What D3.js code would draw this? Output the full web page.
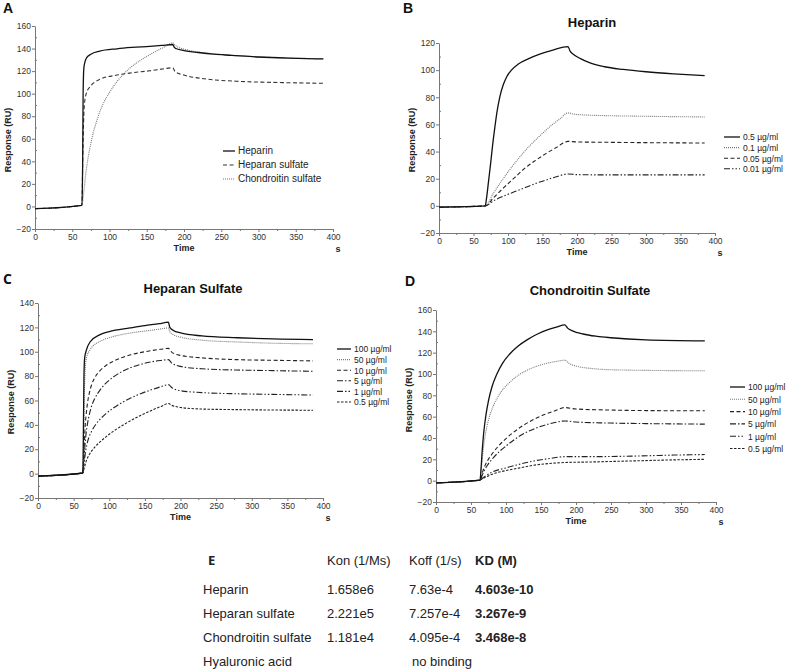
<!DOCTYPE html>
<html>
<head>
<meta charset="utf-8">
<script src="https://cdn.jsdelivr.net/npm/d3@7"></script>
<style>
  body { margin: 0; background: #fff; }
  svg { font-family: "Liberation Sans", Arial, sans-serif; }
  .tick text { fill: #333; font-size: 8.5px; }
  .domain, .tick line { stroke: #777; }
</style>
</head>
<body>
<div id="chart"></div>
<script>
// sensorgram readings, [time (s), response (RU)]

// A: all three GAGs
const aLabels = ['Heparin', 'Heparan sulfate', 'Chondroitin sulfate']
const aHeparin = [[0,-2],[63,1],[64,40],[64.6,100],[65.5,122],[67,128],[69,131.5],[75,135],[87,137.7],[110,139.8],[130,141],[154,142],[170,142.8],[185,143.6],[187,141],[190,139.8],[200,138.2],[219,136.5],[240,135],[264,134],[300,132.5],[340,131.5],[387,130.8]]
const aHeparanS = [[0,-2],[63,1],[64,40],[65,70],[66,88],[69,100.6],[75,107],[87,112.7],[110,116.5],[130,118.5],[154,120.3],[170,121.8],[185,123],[188,119.5],[200,116.5],[230,113],[270,111],[320,110],[387,109.2]]
const aChondS = [[0,-2],[63,1],[64,4],[65,10],[66.5,19],[68,28],[70,38],[72,46],[75,56],[78,65],[82,74],[87,84],[93,93],[100,101],[108,109],[117,116],[127,122.5],[138,128],[150,133],[162,137.5],[174,141.5],[185,145],[188,143],[192,141.3],[200,139.5],[219,137],[240,135.3],[264,134],[300,132.6],[340,131.6],[387,131]]

// B: heparin concentrations
const bLabels = ['0.5 \u00b5g/ml', '0.1 \u00b5g/ml', '0.05 \u00b5g/ml', '0.01 \u00b5g/ml']
const b05 = [[0,-1],[67,0],[69,6],[72,19],[75,32],[78,46],[81,58],[84,69],[88,80],[93,89],[98,95],[105,100],[115,104.5],[130,108.5],[146,111.8],[165,114.8],[187,117.3],[190,114],[195,111.5],[205,108.5],[218,105.5],[240,102.5],[267,100.5],[300,98.8],[340,97.3],[385,96]]
const b01 = [[0,-1],[67,0],[79,9.5],[91,18.5],[103,27],[117,36],[131,44],[146,51.5],[161,58.5],[175,64],[187,68.5],[195,67.6],[210,67],[240,66.5],[300,66],[385,65.5]]
const b005 = [[0,-1],[67,0],[80,6.5],[95,14],[110,21],[125,28],[140,33.5],[155,38.5],[170,43],[187,47.5],[200,47.1],[250,46.8],[385,46.3]]
const b001 = [[0,-1],[67,0],[80,4],[95,7.5],[110,10.5],[125,13.5],[140,16.5],[155,19],[170,21.5],[187,23.5],[200,23],[250,22.8],[385,22.8]]

// C: heparan sulfate concentrations
const cLabels = ['100 \u00b5g/ml', '50 \u00b5g/ml', '10 \u00b5g/ml', '5 \u00b5g/ml', '1 \u00b5g/ml', '0.5 \u00b5g/ml']
const c100 = [[0,-2],[63,0.5],[63.8,40],[64.5,80],[65.5,95],[68,101.5],[73,108],[87,114],[100,116.5],[129,119.5],[150,121.5],[170,123],[183,124.3],[185,120],[190,117.5],[200,115.5],[230,113],[280,111.5],[330,110.5],[386,110]]
const c50 = [[0,-2],[63,0.5],[64,30],[65,65],[66,82],[68,95],[73,101.5],[87,108.5],[100,111.5],[129,115.3],[150,117],[170,118.5],[183,119.5],[185,116.5],[190,114],[200,112],[230,109.5],[280,108],[330,107],[386,106.5]]
const c10 = [[0,-2],[63,0.5],[64,12],[65,25],[66,37],[67.5,48],[69.5,58],[72,66],[75,72.5],[80,79],[87,84.5],[95,88.5],[105,92],[117,95],[130,97.5],[145,99.5],[160,101],[172,102],[183,102.8],[188,99.5],[200,97],[230,95],[280,93.5],[330,93],[386,92.5]]
const c5 = [[0,-2],[63,0.5],[64,8],[65,16],[66,24],[67.5,33],[69.5,41],[72,48.5],[75,55],[80,62],[87,68.5],[95,74],[105,79],[117,83.5],[130,87],[145,89.8],[160,91.8],[172,92.8],[183,93.5],[188,90.5],[200,88],[230,86],[280,85],[330,84.5],[386,84]]
const c1 = [[0,-2],[63,0.5],[64,5],[65,10],[66.5,17],[68.5,23.5],[71,29],[75,34.5],[80,39.5],[87,44.5],[95,49],[105,53.5],[117,58],[130,62],[145,65.8],[160,69],[172,71.2],[183,73],[188,70.5],[200,68],[230,66.5],[280,65.5],[330,65],[386,64.5]]
const c05 = [[0,-2],[63,0.5],[64,2.5],[65.5,6],[67.5,10],[70,13.5],[74,17.5],[80,22],[87,26],[95,30],[105,34.5],[117,39],[130,43.5],[145,48],[160,52],[172,55],[183,57.5],[188,56],[200,54.3],[230,53],[280,52.5],[386,52]]

// D: chondroitin sulfate concentrations
const dLabels = ['100 \u00b5g/ml', '50 \u00b5g/ml', '10 \u00b5g/ml', '5 \u00b5g/ml', '1 \u00b5g/ml', '0.5 \u00b5g/ml']
const d100 = [[0,-2],[63,0.5],[64,8],[66,28],[68,44],[71,60],[75,75],[80,88],[87,100],[95,110],[105,118.5],[117,126],[130,132],[145,137.5],[160,141.5],[172,144],[184,146],[188,143],[195,140.5],[210,137.5],[230,135.3],[250,134],[300,132],[384,131]]
const d50 = [[0,-2],[63,0.5],[64,6],[66,20],[68,32],[71,45],[75,57],[80,67],[87,77],[95,85],[105,92],[117,98.5],[130,103.5],[145,107.5],[160,110.3],[172,111.8],[184,113],[190,110],[200,107.5],[220,105.3],[260,103.8],[384,103]]
const d10 = [[0,-2],[63,0.5],[64,2],[66,7],[69,12.5],[73,18],[80,25],[90,33],[100,39.5],[112,46],[125,52],[140,57.5],[155,62],[170,65.5],[184,68.5],[200,67.2],[250,66.2],[300,65.7],[384,65.5]]
const d5 = [[0,-2],[63,0.5],[64,1.5],[66,5],[69,9.5],[73,14],[80,20],[90,27],[100,32.5],[112,38.5],[125,44],[140,48.5],[155,52],[170,54.5],[184,56],[200,55],[250,54],[300,53.5],[384,53]]
const d1 = [[0,-2],[63,0.5],[64,1],[70,4],[80,8],[100,12],[120,15.5],[140,18.5],[160,20.5],[184,22.5],[220,22.5],[280,23],[340,24],[384,24.5]]
const d05 = [[0,-2],[63,0.5],[64,1],[70,3],[80,6],[100,9.5],[120,12],[140,14.5],[160,16],[184,17],[220,17.5],[280,18.5],[340,19.5],[384,20]]

const xTicks = [0, 50, 100, 150, 200, 250, 300, 350, 400]

// E: kinetics table
const tableHeader = ['Kon (1/Ms)', 'Koff (1/s)', 'KD (M)']
const tableRows = ['Heparin', 'Heparan sulfate', 'Chondroitin sulfate', 'Hyaluronic acid']
const konValues = ['1.658e6', '2.221e5', '1.181e4', '']
const koffValues = ['7.63e-4', '7.257e-4', '4.095e-4', '']
const kdValues = ['4.603e-10', '3.267e-9', '3.468e-8', '']

// line styles
const SOLID = { dash: null, color: '#111', w: 1.3 }
const DOT = { dash: '1,1', color: '#777', w: 1.1 }
const DASH = { dash: '4,2.5', color: '#222', w: 1.1 }
const SDASH = { dash: '2.5,1.5', color: '#222', w: 1.1 }
const DASHDOT = { dash: '6,2,1.5,2', color: '#222', w: 1.1 }
const DASHDOTDOT = { dash: '6,2,1.5,2,1.5,2', color: '#222', w: 1.1 }

let svg = d3.select('#chart').append('svg')
  .attr('width', 787)
  .attr('height', 670)

function drawPanel(p) {
  let x = d3.scaleLinear().domain([0, 400]).range([p.x0, p.x1])
  let y = d3.scaleLinear().domain([-20, p.yMax]).range([p.yBottom, p.yTop])
  let g = svg.append('g')

  // minor ticks
  g.append('g')
    .attr('transform', `translate(0,${p.yBottom})`)
    .call(d3.axisBottom(x).tickValues(d3.range(25, 400, 50)).tickSize(2).tickFormat(''))
    .call(a => a.select('.domain').remove())
  g.append('g')
    .attr('transform', `translate(${p.x0},0)`)
    .call(d3.axisLeft(y).tickValues(d3.range(-10, p.yMax, 20)).tickSize(-2).tickFormat(''))
    .call(a => a.select('.domain').remove())

  g.append('g')
    .attr('transform', `translate(0,${p.yBottom})`)
    .call(d3.axisBottom(x).tickValues(xTicks).tickSize(3).tickSizeOuter(0).tickPadding(2))
  g.append('g')
    .attr('transform', `translate(${p.x0},0)`)
    .call(d3.axisLeft(y).tickValues(d3.range(-20, p.yMax + 1, 20)).tickSize(3).tickSizeOuter(0).tickPadding(1))

  g.append('text')
    .attr('x', (p.x0 + p.x1) / 2).attr('y', p.yBottom + 22)
    .attr('text-anchor', 'middle')
    .attr('font-size', 9).attr('font-weight', 'bold').attr('fill', '#222')
    .text('Time')
  g.append('text')
    .attr('x', p.x1 + 5).attr('y', p.yBottom + 23)
    .attr('text-anchor', 'middle')
    .attr('font-size', 9).attr('font-weight', 'bold').attr('fill', '#222')
    .text('s')
  g.append('text')
    .attr('transform', `translate(${p.x0 - 24},${p.yLabel}) rotate(-90)`)
    .attr('text-anchor', 'middle')
    .attr('font-size', 9).attr('font-weight', 'bold').attr('fill', '#222')
    .text('Response (RU)')

  if (p.title) {
    g.append('text')
      .attr('x', p.titleX).attr('y', p.titleY)
      .attr('text-anchor', 'middle')
      .attr('font-size', 13).attr('font-weight', 'bold').attr('fill', '#111')
      .text(p.title)
  }
  g.append('text')
    .attr('x', p.letterX).attr('y', p.letterY)
    .attr('font-size', 14).attr('font-weight', 'bold').attr('fill', '#111')
    .attr('font-family', p.letterFont || null)
    .text(p.letter)

  let line = d3.line()
    .x(d => x(d[0]))
    .y(d => y(d[1]))
    .curve(d3.curveMonotoneX)

  // draw back to front so the solid top curve sits above
  p.series.slice().reverse().forEach(s => {
    g.append('path')
      .attr('d', line(s.data))
      .attr('fill', 'none')
      .attr('stroke', s.style.color)
      .attr('stroke-width', s.style.w)
      .attr('stroke-dasharray', s.style.dash)
  })

  p.series.forEach((s, i) => {
    let ly = p.legY + i * p.legStep
    g.append('line')
      .attr('x1', p.legX).attr('x2', p.legX + p.legLen)
      .attr('y1', ly).attr('y2', ly)
      .attr('stroke', s.style.color)
      .attr('stroke-width', s.style.w)
      .attr('stroke-dasharray', s.style.dash)
    g.append('text')
      .attr('x', p.legX + p.legLen + 3).attr('y', ly + 3.3)
      .attr('font-size', p.legFont).attr('fill', '#222')
      .text(s.label)
  })
}

drawPanel({
  letter: 'A', letterX: 3, letterY: 13,
  x0: 35, x1: 333, yTop: 26, yBottom: 229, yMax: 160, yLabel: 140,
  legX: 223, legLen: 12, legY: 151, legStep: 14, legFont: 10,
  series: [
    { label: aLabels[0], data: aHeparin, style: SOLID },
    { label: aLabels[1], data: aHeparanS, style: { dash: '4,2.5', color: '#333', w: 1.1 } },
    { label: aLabels[2], data: aChondS, style: DOT }
  ]
})

drawPanel({
  letter: 'B', letterX: 403, letterY: 13,
  title: 'Heparin', titleX: 592, titleY: 27,
  x0: 439, x1: 715, yTop: 43, yBottom: 233, yMax: 120, yLabel: 140,
  legX: 724, legLen: 16, legY: 137, legStep: 10.6, legFont: 8.5,
  series: [
    { label: bLabels[0], data: b05, style: SOLID },
    { label: bLabels[1], data: b01, style: DOT },
    { label: bLabels[2], data: b005, style: DASH },
    { label: bLabels[3], data: b001, style: DASHDOTDOT }
  ]
})

drawPanel({
  letter: 'C', letterX: 3, letterY: 284, letterFont: '"Open Sans", sans-serif',
  title: 'Heparan Sulfate', titleX: 193, titleY: 293,
  x0: 38, x1: 323, yTop: 303, yBottom: 498, yMax: 140, yLabel: 402,
  legX: 337, legLen: 14, legY: 349, legStep: 10.6, legFont: 8.5,
  series: [
    { label: cLabels[0], data: c100, style: SOLID },
    { label: cLabels[1], data: c50, style: DOT },
    { label: cLabels[2], data: c10, style: DASH },
    { label: cLabels[3], data: c5, style: DASHDOT },
    { label: cLabels[4], data: c1, style: DASHDOTDOT },
    { label: cLabels[5], data: c05, style: SDASH }
  ]
})

drawPanel({
  letter: 'D', letterX: 405, letterY: 286,
  title: 'Chondroitin Sulfate', titleX: 590, titleY: 295,
  x0: 436, x1: 716, yTop: 310, yBottom: 502, yMax: 160, yLabel: 400,
  legX: 730, legLen: 15, legY: 387, legStep: 12.3, legFont: 8.5,
  series: [
    { label: dLabels[0], data: d100, style: SOLID },
    { label: dLabels[1], data: d50, style: DOT },
    { label: dLabels[2], data: d10, style: DASH },
    { label: dLabels[3], data: d5, style: DASHDOT },
    { label: dLabels[4], data: d1, style: DASHDOTDOT },
    { label: dLabels[5], data: d05, style: SDASH }
  ]
})

// table E
let tbl = svg.append('g').attr('font-size', 13).attr('fill', '#222')
let colX = [327, 409, 475]
let rowY = [594, 618, 642, 666]

tbl.append('text')
  .attr('x', 208).attr('y', 565)
  .attr('font-family', '"Open Sans", sans-serif')
  .attr('font-weight', 'bold').attr('font-size', 13)
  .text('E')
tableHeader.forEach((h, i) => {
  tbl.append('text')
    .attr('x', colX[i]).attr('y', 565)
    .attr('font-weight', i == 2 ? 'bold' : null)
    .text(h)
})
tableRows.forEach((r, i) => {
  tbl.append('text').attr('x', 203).attr('y', rowY[i]).text(r)
  tbl.append('text').attr('x', colX[0]).attr('y', rowY[i]).text(konValues[i])
  tbl.append('text').attr('x', colX[1]).attr('y', rowY[i]).text(koffValues[i])
  tbl.append('text').attr('x', colX[2]).attr('y', rowY[i]).attr('font-weight', 'bold').text(kdValues[i])
})
tbl.append('text').attr('x', 412).attr('y', rowY[3]).text('no binding')
</script>
</body>
</html>
